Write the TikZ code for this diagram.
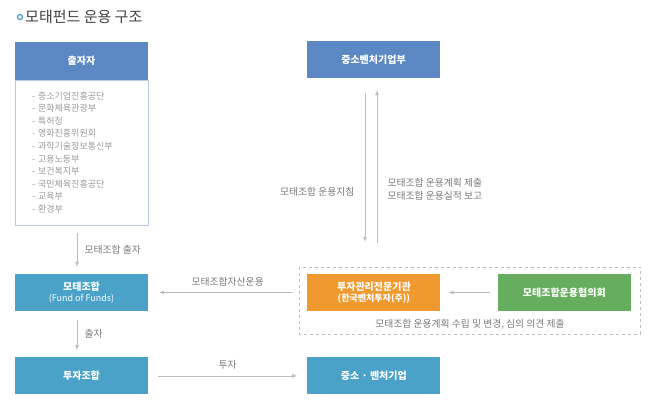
\documentclass[tikz,border=0pt]{standalone}
\usepackage{fontspec}
\setmainfont{Noto Sans CJK KR}
\usetikzlibrary{positioning,arrows.meta}
\definecolor{steel}{HTML}{5B88C2}
\definecolor{teal}{HTML}{4AA2C8}
\definecolor{amber}{HTML}{F0992F}
\definecolor{leaf}{HTML}{66AE5E}
\definecolor{wire}{HTML}{BDBDBD}
\definecolor{ink}{HTML}{7A7A7A}
\tikzset{box/.style = {rectangle, minimum width=133pt, minimum height=37pt, inner sep=0pt, text=white, align=center, font=\bfseries\fontsize{10}{12}\selectfont}}
\tikzset{bluebox/.style = {box, fill=steel}}
\tikzset{tealbox/.style = {box, fill=teal}}
\tikzset{orangebox/.style = {box, fill=amber}}
\tikzset{greenbox/.style = {box, fill=leaf}}
\tikzset{listbox/.style = {draw=steel!45, rectangle, minimum width=133pt, minimum height=145pt, text width=99pt, inner xsep=17pt, inner ysep=0pt, align=left, text=black!40, font=\fontsize{9}{12.6}\selectfont}}
\tikzset{note/.style = {text=ink, font=\fontsize{9.8}{13}\selectfont}}
\tikzset{arrow/.style = {->, draw=wire, semithick}}

\begin{document}
\begin{tikzpicture}[x=1pt, y=-1pt, >={Latex[length=5pt,width=4pt]}]
  \useasboundingbox (0,0) rectangle (650,412);
  \node [circle, draw=steel!80!cyan, line width=1.3pt, minimum size=5pt, inner sep=0pt] (dot) at (20,17) {};
  \node [anchor=west, inner sep=0pt, text=black!75, font=\fontsize{15}{17}\selectfont] (title) at (25,17) {모태펀드 운용 구조};

  \node [bluebox] (funders) at (81.5,61) {출자자};
  \node [listbox, below=0pt of funders] (list) {- 중소기업진흥공단\\- 문화체육관광부\\- 특허청\\- 영화진흥위원회\\- 과학기술정보통신부\\- 고용노동부\\- 보건복지부\\- 국민체육진흥공단\\- 교육부\\- 환경부};
  \node [tealbox] (fof) at (81.5,292.5) {모태조합\\[-1pt]{\mdseries\fontsize{9}{11}\selectfont (Fund of Funds)}};
  \node [tealbox, below=46pt of fof] (union) {투자조합};
  \node [tealbox, right=159pt of union] (venture) {중소 · 벤처기업};
  \node [orangebox, right=159pt of fof] (manager) {투자관리전문기관\\[-1pt]{\fontsize{9}{11}\selectfont (한국벤처투자(주))}};
  \node [greenbox, right=57pt of manager] (council) {모태조합운용협의회};
  \node [bluebox] (ministry) at (373.5,59.5) {중소벤처기업부};

  \coordinate (boxnw) at ([xshift=-8pt, yshift=7pt]manager.north west);
  \coordinate (boxse) at ([xshift=9pt, yshift=-23pt]council.south east);
  \draw [wire, dashed, thin] (boxnw) rectangle (boxse);
  \node [note] (plan) at (470,324) {모태조합 운용계획 수립 및 변경, 심의 의견 제출};

  \coordinate (down) at ([xshift=-8.5pt]ministry.south);
  \coordinate (up) at ([xshift=3.5pt]ministry.south);
  \coordinate (left) at ([xshift=-4.5pt]list.south);
  \coordinate (mid) at ([xshift=-4.5pt]fof.south);

  \draw [arrow, shorten <=8pt, shorten >=7pt] (left) -- node [note, right=4pt] {모태조합 출자} (left |- fof.north);
  \draw [arrow, shorten <=9pt, shorten >=7pt] (mid) -- node [note, right=4pt] {출자} (mid |- union.north);
  \draw [arrow, shorten <=10pt, shorten >=10pt] (union) -- node [note, above=3pt] {투자} (venture);
  \draw [arrow, shorten <=14pt, shorten >=11pt] (manager) -- node [note, above=3pt] {모태조합자산운용} (fof);
  \draw [arrow, shorten <=8pt, shorten >=8pt] (council) -- (manager);

  \draw [arrow, shorten <=15pt, shorten >=25pt] (down) -- node [note, left=7pt, pos=0.6] {모태조합 운용지침} (down |- boxnw);
  \draw [arrow, shorten <=24pt, shorten >=12pt] (up |- boxnw) -- node [note, right=7pt, pos=0.41, align=left] {모태조합 운용계획 제출\\모태조합 운용실적 보고} (up);
\end{tikzpicture}
\end{document}
